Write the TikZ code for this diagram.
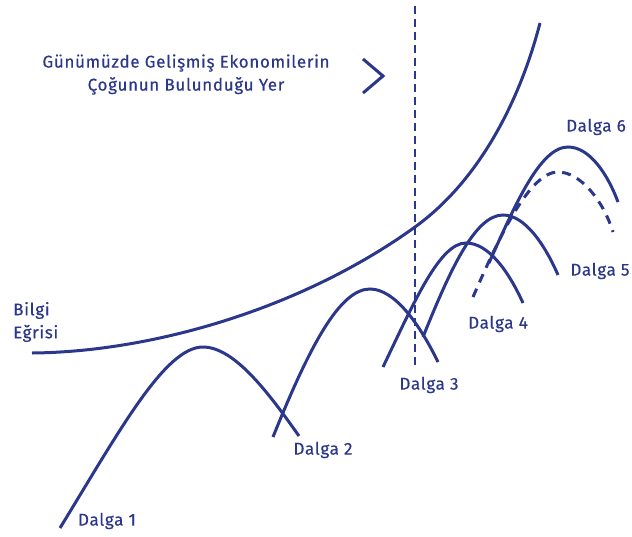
\documentclass[tikz,border=0pt]{standalone}
\usepackage{fontspec}
\setmainfont[LetterSpace=4, FakeBold=0.35]{Fira Sans}
\definecolor{navy}{RGB}{43,55,138}
\begin{document}
\begin{tikzpicture}[x=1pt,y=-1pt,
  curve/.style={line width=3pt, draw=navy},
  dashcurve/.style={line width=3pt, draw=navy, dash pattern=on 9pt off 7pt},
  vdash/.style={line width=2.9pt, draw=navy, dash pattern=on 8pt off 5pt},
  lbl/.style={text=navy, font=\fontsize{17}{18}\selectfont, inner sep=0pt}]
\useasboundingbox (0,0) rectangle (632,536);
% knowledge curve
\draw[curve] (32,353) .. controls (150,352) and (300,310) .. (415,227)
  .. controls (480,180) and (520,100) .. (540,23);
% vertical dashed line
\draw[vdash] (415,6) -- (415,368);
% wave 1
\draw[curve] (60,528) .. controls (120,430) and (165,347) .. (203,347)
  .. controls (235,347) and (270,395) .. (299,436);
% wave 2
\draw[curve] (273,437) .. controls (310,345) and (340,289) .. (370,289)
  .. controls (395,289) and (420,325) .. (438,362);
% wave 3
\draw[curve] (383,367) .. controls (415,300) and (440,243) .. (466,243)
  .. controls (488,243) and (508,270) .. (523,303);
% wave 4
\draw[curve] (423,337) .. controls (450,270) and (475,215) .. (503,215)
  .. controls (525,215) and (545,245) .. (558,275);
% wave 6 solid
\draw[curve] (489,263) .. controls (515,205) and (540,147) .. (568,147)
  .. controls (590,147) and (608,175) .. (618,202);
% dashed alternative
\draw[dashcurve] (473,297) .. controls (500,235) and (530,172) .. (558,172)
  .. controls (580,172) and (603,200) .. (613,232);
% chevron
\draw[curve, line join=miter] (363,59) -- (383,76) -- (363,93);
% labels
\node[lbl, align=center, font=\fontsize{17}{23}\selectfont] (top) at (186,74.5) {Günümüzde Gelişmiş Ekonomilerin\\Çoğunun Bulunduğu Yer};
\node[lbl, align=left, anchor=west, font=\fontsize{17}{23}\selectfont] (bilgi) at (13,322) {Bilgi\\Eğrisi};
\node[lbl] (d1) at (107,521) {Dalga 1};
\node[lbl] (d2) at (323,450) {Dalga 2};
\node[lbl] (d3) at (429,385) {Dalga 3};
\node[lbl] (d4) at (498,324) {Dalga 4};
\node[lbl] (d5) at (600,271) {Dalga 5};
\node[lbl] (d6) at (596,127) {Dalga 6};
\end{tikzpicture}
\end{document}
